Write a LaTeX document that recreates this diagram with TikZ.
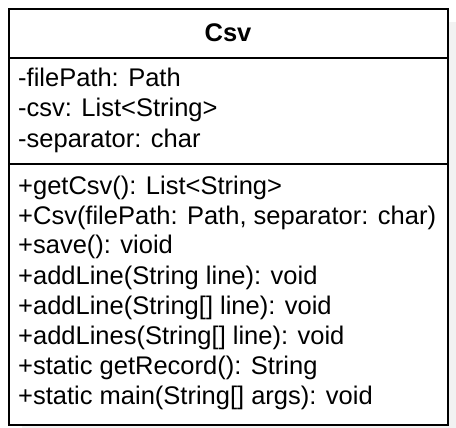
\documentclass[tikz,border=0pt]{standalone}
\usepackage{fontspec}
\setmainfont{Liberation Sans}
\begin{document}
\begin{tikzpicture}[x=1pt,y=-1pt,
  member/.style={anchor=base west,inner sep=0pt,font=\fontsize{25.5}{30}\selectfont},
  title/.style={anchor=base,inner sep=0pt,font=\fontsize{25.5}{30}\selectfont\bfseries},
  frame/.style={draw=black,line width=1.6pt}]
\useasboundingbox (0,0) rectangle (456,428);
\fill[black!5] (22,22) rectangle (456,432);
\node[frame,fill=white,minimum width=439pt,minimum height=416pt,anchor=north west,inner sep=0pt] (box) at (8,8) {};
\coordinate (s1l) at (8,58);
\coordinate (s1r) at (447,58);
\coordinate (s2l) at (8,164);
\coordinate (s2r) at (447,164);
\draw[frame] (s1l) -- (s1r);
\draw[frame] (s2l) -- (s2r);
\node[title] (t) at (228,42) {Csv};
\node[member] (a1) at (18,87) {-filePath: Path};
\node[member] (a2) at (18,117) {-csv: List<String>};
\node[member] (a3) at (18,148) {-separator: char};
\node[member] (m1) at (18,194) {+getCsv(): List<String>};
\node[member] (m2) at (18,224) {+Csv(filePath: Path, separator: char)};
\node[member] (m3) at (18,254) {+save(): vioid};
\node[member] (m4) at (18,284) {+addLine(String line): void};
\node[member] (m5) at (18,314) {+addLine(String[] line): void};
\node[member] (m6) at (18,344) {+addLines(String[] line): void};
\node[member] (m7) at (18,374) {+static getRecord(): String};
\node[member] (m8) at (18,404) {+static main(String[] args): void};
\end{tikzpicture}
\end{document}
